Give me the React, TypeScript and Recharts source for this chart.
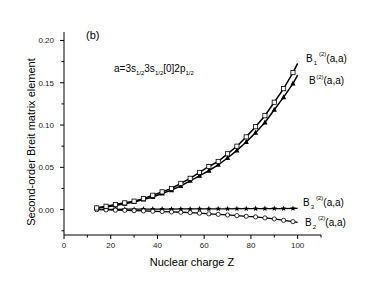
import React from "react";
import { ComposedChart, Line, XAxis, YAxis } from "recharts";

// nuclear charge Z (last point is only the end of the fitted line)
const zValues = [14, 18, 22, 26, 30, 34, 38, 42, 46, 50, 54, 58, 62, 66, 70, 74, 78, 82, 86, 90, 94, 98, 100];

const b1Values = [0.002, 0.004, 0.006, 0.008, 0.010, 0.013, 0.017, 0.021, 0.025, 0.031, 0.037, 0.044, 0.051, 0.057, 0.066, 0.075, 0.086, 0.098, 0.111, 0.127, 0.143, 0.162, 0.173];
const bTotalValues = [0.002, 0.003, 0.005, 0.007, 0.009, 0.012, 0.015, 0.019, 0.023, 0.028, 0.034, 0.040, 0.046, 0.053, 0.061, 0.070, 0.080, 0.091, 0.103, 0.118, 0.133, 0.149, 0.159];
const b3Values = [0.0003, 0.0004, 0.0004, 0.0005, 0.0005, 0.0006, 0.0006, 0.0007, 0.0007, 0.0008, 0.0008, 0.0009, 0.0009, 0.0010, 0.0010, 0.0011, 0.0011, 0.0012, 0.0012, 0.0013, 0.0013, 0.0014, 0.0014];
const b2Values = [0.0000, -0.0003, -0.0006, -0.0009, -0.0012, -0.0015, -0.0019, -0.0023, -0.0027, -0.0031, -0.0036, -0.0042, -0.0050, -0.0056, -0.0063, -0.0071, -0.0079, -0.0086, -0.0098, -0.0110, -0.0127, -0.0142, -0.0150];

const xTicks = [0, 10, 20, 30, 40, 50, 60, 70, 80, 90, 100, 110];
const yTicks = [-0.025, 0, 0.025, 0.05, 0.075, 0.1, 0.125, 0.15, 0.175, 0.2];

const data = zValues.map((z, i) => ({
  z,
  b1: b1Values[i],
  bt: bTotalValues[i],
  b3: b3Values[i],
  b2: b2Values[i],
}));

const FONT = "Arial, 'Liberation Sans', sans-serif";

const XTick = (props: any) => {
  const { x, y, payload } = props;
  const v = payload.value;
  const major = v % 20 === 0 && v <= 100;
  return (
    <g>
      <line x1={x} x2={x} y1={y} y2={y + (major ? 4 : 2.5)} stroke="#000" />
      {major && (
        <text x={x} y={y + 13} textAnchor="middle" fontSize={8} fontFamily={FONT} fill="#222">
          {v}
        </text>
      )}
    </g>
  );
};

const YTick = (props: any) => {
  const { x, y, payload } = props;
  const v = payload.value;
  const major = Math.round(v * 1000) % 50 === 0;
  return (
    <g>
      <line x1={x} x2={x - (major ? 4 : 2.5)} y1={y} y2={y} stroke="#000" />
      {major && (
        <text x={x - 10} y={y + 3} textAnchor="end" fontSize={8} fontFamily={FONT} fill="#222">
          {v.toFixed(2)}
        </text>
      )}
    </g>
  );
};

const squareDot = (p: any) => {
  if (p.payload.z === 100) return <g key={p.index} />;
  return <rect key={p.index} x={p.cx - 2.1} y={p.cy - 2.1} width={4.2} height={4.2} fill="#fff" stroke="#000" strokeWidth={0.8} />;
};

const triangleDot = (p: any) => {
  if (p.payload.z === 100) return <g key={p.index} />;
  const { cx, cy } = p;
  return <polygon key={p.index} points={`${cx},${cy - 3} ${cx - 2.6},${cy + 2} ${cx + 2.6},${cy + 2}`} fill="#000" />;
};

const starDot = (p: any) => {
  if (p.payload.z === 100) return <g key={p.index} />;
  const { cx, cy } = p;
  const pts: string[] = [];
  for (let k = 0; k < 10; k++) {
    const r = k % 2 === 0 ? 3 : 1.3;
    const a = -Math.PI / 2 + (k * Math.PI) / 5;
    pts.push(`${cx + r * Math.cos(a)},${cy + r * Math.sin(a)}`);
  }
  return <polygon key={p.index} points={pts.join(" ")} fill="#000" />;
};

const circleDot = (p: any) => {
  if (p.payload.z === 100) return <g key={p.index} />;
  return <circle key={p.index} cx={p.cx} cy={p.cy} r={2.1} fill="#fff" stroke="#000" strokeWidth={0.8} />;
};

function CurveLabel({ x, y, sub, sup }: { x: number; y: number; sub?: string; sup: string }) {
  return (
    <text x={x} y={y} fontSize={10} fontFamily={FONT} fill="#000">
      <tspan>B</tspan>
      {sub && (
        <tspan dx={1} dy={3} fontSize={6}>
          {sub}
        </tspan>
      )}
      <tspan dx={sub ? 2 : 0.5} dy={sub ? -9 : -5} fontSize={6}>
        {sup}
      </tspan>
      <tspan dy={sub ? 6 : 5}>(a,a)</tspan>
    </text>
  );
}

export default function App() {
  return (
    <div style={{ position: "absolute", left: 0, top: 0, width: 374, height: 286, background: "#fff" }}>
      <ComposedChart width={374} height={286} data={data} margin={{ top: 32, right: 53, left: 0, bottom: 0 }}>
        <XAxis
          dataKey="z"
          type="number"
          domain={[0, 110]}
          ticks={xTicks}
          interval={0}
          tickSize={0}
          tickMargin={0}
          tickLine={false}
          tick={<XTick />}
          height={51}
          axisLine={{ stroke: "#000", strokeWidth: 1 }}
        />
        <YAxis
          type="number"
          domain={[-0.03, 0.21]}
          ticks={yTicks}
          interval={0}
          tickSize={0}
          tickMargin={0}
          tickLine={false}
          tick={<YTick />}
          width={64}
          axisLine={{ stroke: "#000", strokeWidth: 1 }}
        />
        <Line dataKey="b3" stroke="#000" strokeWidth={1.3} dot={starDot} isAnimationActive={false} />
        <Line dataKey="b2" stroke="#000" strokeWidth={1.3} dot={circleDot} isAnimationActive={false} />
        <Line dataKey="bt" stroke="#000" strokeWidth={1.5} dot={triangleDot} isAnimationActive={false} />
        <Line dataKey="b1" stroke="#000" strokeWidth={1.5} dot={squareDot} isAnimationActive={false} />
      </ComposedChart>
      <svg width={374} height={286} style={{ position: "absolute", left: 0, top: 0, pointerEvents: "none" }}>
        <text x={86} y={39} fontSize={11} fontFamily={FONT} fill="#000">(b)</text>
        <text x={114} y={72} fontSize={10} fontFamily={FONT} fill="#000">
          <tspan>a=3s</tspan>
          <tspan dy={3} fontSize={6}>1/2</tspan>
          <tspan dy={-3}>3s</tspan>
          <tspan dy={3} fontSize={6}>1/2</tspan>
          <tspan dy={-3}>[0]2p</tspan>
          <tspan dy={3} fontSize={6}>1/2</tspan>
        </text>
        <CurveLabel x={306} y={62} sub="1" sup="(2)" />
        <CurveLabel x={309} y={84} sup="(2)" />
        <CurveLabel x={303} y={206} sub="3" sup="(2)" />
        <CurveLabel x={305} y={226} sub="2" sup="(2)" />
        <text x={192} y={266} textAnchor="middle" fontSize={11} fontFamily={FONT} fill="#000">
          Nuclear charge Z
        </text>
        <text
          x={35}
          y={142}
          transform="rotate(-90 35 142)"
          textAnchor="middle"
          fontSize={11}
          fontFamily={FONT}
          fill="#000"
        >
          Second-order Breit matrix element
        </text>
      </svg>
    </div>
  );
}
